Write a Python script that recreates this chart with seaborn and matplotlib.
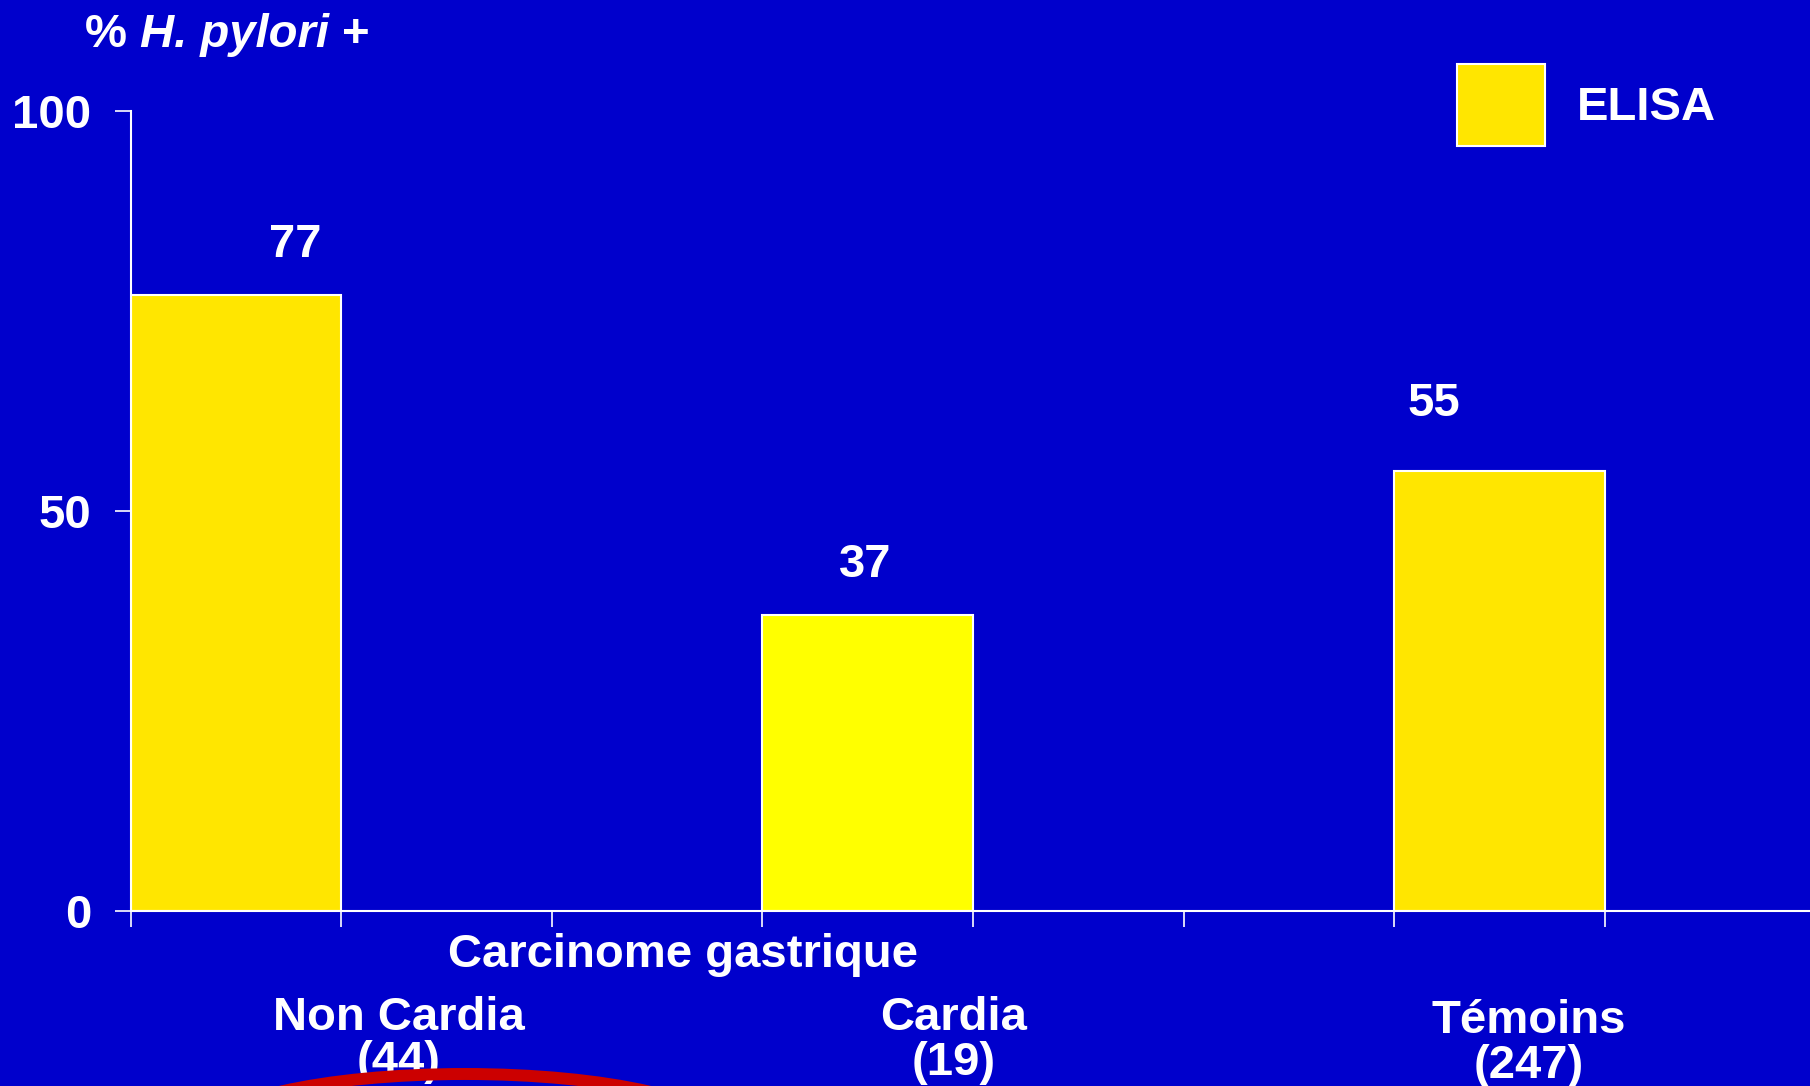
import matplotlib
matplotlib.use("Agg")
import matplotlib.pyplot as plt
from matplotlib.patches import Patch, Ellipse
import seaborn as sns

# data
categories = ["Non Cardia", "Cardia", "Témoins"]
counts = ["(44)", "(19)", "(247)"]
values = [77, 37, 55]
bar_colors = ["#FFE600", "#FFFF00", "#FFE600"]
legend_label = "ELISA"
group_label = "Carcinome gastrique"
yticks = [0, 50, 100]

# manual label nudges (points) as on the original slide
label_offsets = [(42.5, 27.4), (-2, 27.4), (-47.5, 39.1)]

BG = "#0000CC"
W, H = 1810, 1086
FS = 34

sns.set_theme(style="ticks", rc={"axes.facecolor": BG, "figure.facecolor": BG,
                                 "axes.edgecolor": "white", "text.color": "white",
                                 "xtick.color": "white", "ytick.color": "white"})
plt.rcParams["font.family"] = ["Liberation Sans", "DejaVu Sans"]
plt.rcParams["font.weight"] = "bold"

fig = plt.figure(figsize=(W / 100, H / 100), dpi=100)
ax = fig.add_axes([130.6 / W, (H - 910.5) / H, 1685 / W, (910.5 - 110.8) / H])

sns.barplot(x=categories, y=values, hue=categories, palette=bar_colors, width=1 / 3,
            edgecolor="white", linewidth=1.5, legend=False, saturation=1, ax=ax)

ax.set_xlim(-1 / 6, -1 / 6 + 8 / 3)
ax.set_ylim(0, 100)
ax.set_xticks([-1 / 6 + k / 3 for k in range(9)])
ax.set_xticklabels([])
ax.set_yticks(yticks)
ax.set_yticklabels([str(v) for v in yticks], fontsize=FS, fontweight="bold")
ax.tick_params(axis="both", length=11.5, width=1.2, pad=17)
ax.set_xlabel("")
ax.set_ylabel("")
for s in ["top", "right"]:
    ax.spines[s].set_visible(False)
for s in ["left", "bottom"]:
    ax.spines[s].set_linewidth(1.5)
    ax.spines[s].set_color("white")

# value labels above bars
for i, (v, off) in enumerate(zip(values, label_offsets)):
    ax.annotate(str(v), xy=(i, v), xytext=off, textcoords="offset points",
                ha="center", va="baseline", fontsize=FS, fontweight="bold",
                color="white", annotation_clip=False)

# y axis title: % H. pylori +
t1 = fig.text(85 / W, 1 - 47.3 / H, "%", fontsize=FS, fontweight="bold",
              color="white", ha="left", va="baseline")
t2 = ax.annotate("H. pylori", xy=(1, 0), xycoords=t1, xytext=(9.5, 0),
                 textcoords="offset points", ha="left", va="bottom", fontsize=FS,
                 fontweight="bold", fontstyle="italic", color="white",
                 annotation_clip=False)
ax.annotate("+", xy=(1, 0), xycoords=t2, xytext=(9.5, 0),
            textcoords="offset points", ha="left", va="bottom", fontsize=FS,
            fontweight="bold", color="white", annotation_clip=False)

# legend
handle = Patch(facecolor="#FFE600", edgecolor="white", linewidth=1.5, label=legend_label)
leg = ax.legend(handles=[handle], loc="upper left",
                bbox_to_anchor=(1457 / W, 1 - 64 / H), bbox_transform=fig.transFigure,
                frameon=False, borderpad=0, borderaxespad=0, handlelength=1.86,
                handleheight=2.3, handletextpad=0.68,
                prop={"size": FS, "weight": "bold"})
for txt in leg.get_texts():
    txt.set_color("white")

# group and category labels
fig.text(683 / W, 1 - 966.7 / H, group_label, fontsize=FS, fontweight="bold",
         color="white", ha="center", va="baseline")
name_x = [399, 954, 1529]
name_y = [1030, 1030, 1032.7]
count_y = [1074, 1075, 1078]
for name, n, x, y1, y2 in zip(categories, counts, name_x, name_y, count_y):
    fig.text(x / W, 1 - y1 / H, name, fontsize=FS, fontweight="bold",
             color="white", ha="center", va="baseline")
    fig.text(x / W, 1 - y2 / H, n, fontsize=FS, fontweight="bold",
             color="white", ha="center", va="baseline")

# red highlight ring around the first group (cut by the slide edge)
ring = Ellipse((465 / W, -48 / H), 520 / W, 120 / H, transform=fig.transFigure,
               fill=False, edgecolor="#CC0000", linewidth=8.6, zorder=10)
fig.add_artist(ring)

fig.savefig("out.png", dpi=100, facecolor=BG)
